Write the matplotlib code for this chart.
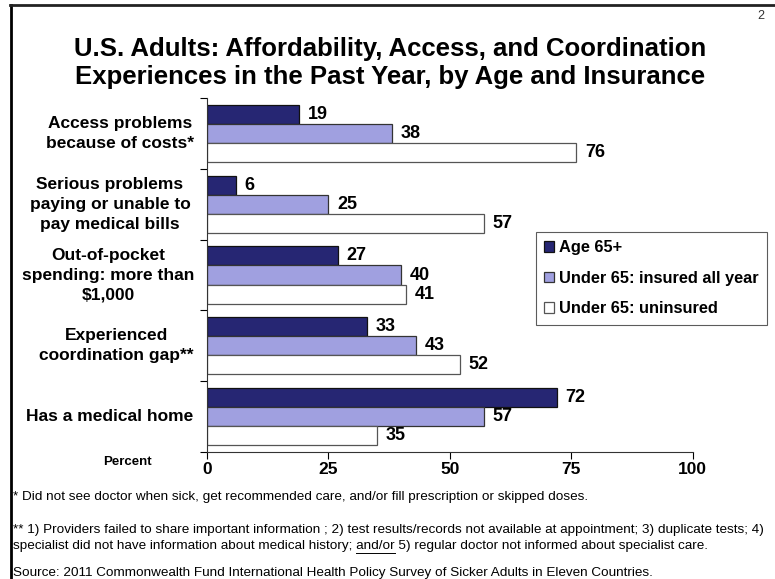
import numpy as np
import matplotlib
matplotlib.use("Agg")
from matplotlib import pyplot as plt
from matplotlib.lines import Line2D

plt.rcParams['font.family'] = ['Liberation Sans', 'DejaVu Sans']

categories = ["Access problems\nbecause of costs*",
              "Serious problems\npaying or unable to\npay medical bills",
              "Out-of-pocket\nspending: more than\n$1,000",
              "Experienced\ncoordination gap**",
              "Has a medical home"]
series_names = ["Age 65+", "Under 65: insured all year", "Under 65: uninsured"]
age65 = [19, 6, 27, 33, 72]
insured = [38, 25, 40, 43, 57]
uninsured = [76, 57, 41, 52, 35]
xticks = [0, 25, 50, 75, 100]

colors = ["#262673", "#A0A0E0", "#FFFFFF"]
edges = ["#111111", "#333333", "#555555"]
# horizontal centre of each category label, in figure pixels
label_x = [120, 110, 108, 116, 110]

W, H = 775, 579
fig = plt.figure(figsize=(7.75, 5.79), dpi=100)
ax = fig.add_axes([0.267, 0.2193, 0.627, 0.6114])

n = len(categories)
centers = np.arange(n)
h = 0.27
for i, vals in enumerate([age65, insured, uninsured]):
    y = centers + (i - 1) * h
    ax.barh(y, vals, height=h, color=colors[i], edgecolor=edges[i],
            linewidth=0.9, label=series_names[i])
    for yy, v in zip(y, vals):
        ax.text(v + 1.8, yy, str(v), va="center", ha="left",
                fontsize=13, fontweight="bold")

ax.set_xlim(0, 100)
ax.set_ylim(n - 0.5, -0.5)
ax.set_xticks(xticks)
ax.set_xticklabels([str(t) for t in xticks], fontsize=12.5, fontweight="bold")
ax.set_yticks(np.arange(n + 1) - 0.5)
ax.set_yticklabels([])
ax.tick_params(axis="y", length=5, width=0.8, direction="out")
ax.tick_params(axis="x", length=5, width=0.8, direction="out", pad=2)
for s in ["top", "right"]:
    ax.spines[s].set_visible(False)
for s in ["left", "bottom"]:
    ax.spines[s].set_color("#333333")
    ax.spines[s].set_linewidth(0.8)

# category labels
for c, lab, lx in zip(centers, categories, label_x):
    yf = ax.transData.transform((0, c))[1] / fig.bbox.height
    fig.text(lx / W, yf, lab, ha="center", va="center", fontsize=12.5,
             fontweight="bold", linespacing=1.4)

leg = fig.legend(loc="upper left", bbox_to_anchor=(0.6916, 0.5993),
                 prop={"size": 11.8, "weight": "bold"}, frameon=True,
                 fancybox=False, handlelength=0.6, handleheight=0.6,
                 handletextpad=0.3, labelspacing=0.95, borderpad=0.5,
                 borderaxespad=0)
leg.get_frame().set_edgecolor("#333333")
leg.get_frame().set_linewidth(0.8)

fig.text(0.503, 1 - 63 / H, "U.S. Adults: Affordability, Access, and Coordination\n"
         "Experiences in the Past Year, by Age and Insurance",
         ha="center", va="center", fontsize=18.5, fontweight="bold",
         linespacing=1.2)
fig.text(0.982, 0.972, "2", ha="center", va="center", fontsize=9, color="#333333")
fig.text(0.165, 1 - 462 / H, "Percent", ha="center", va="center",
         fontsize=9.5, fontweight="bold")

fs = 9.7
x0 = 0.017
fig.text(x0, 1 - 497 / H, "* Did not see doctor when sick, get recommended care, "
         "and/or fill prescription or skipped doses.", fontsize=fs, va="center")
fig.text(x0, 1 - 530 / H, "** 1) Providers failed to share important information ; "
         "2) test results/records not available at appointment; 3) duplicate tests; 4)",
         fontsize=fs, va="center")
pre = "specialist did not have information about medical history; "
fig.text(x0, 1 - 546 / H, pre + "and/or 5) regular doctor not informed "
         "about specialist care.", fontsize=fs, va="center")
fig.text(x0, 1 - 573 / H, "Source: 2011 Commonwealth Fund International Health "
         "Policy Survey of Sicker Adults in Eleven Countries.", fontsize=fs, va="center")

# underline "and/or"
r = fig.canvas.get_renderer()
m1 = fig.text(0, 0, pre, fontsize=fs, alpha=0)
m2 = fig.text(0, 0, pre + "and/or", fontsize=fs, alpha=0)
w1 = m1.get_window_extent(r).width / fig.bbox.width
w2 = m2.get_window_extent(r).width / fig.bbox.width
m1.remove()
m2.remove()
uy = 1 - 553 / H
fig.add_artist(Line2D([x0 + w1, x0 + w2], [uy, uy],
                      transform=fig.transFigure, color="black", linewidth=0.7))

# page frame
fig.add_artist(Line2D([0.014, 0.014], [0, 0.991], transform=fig.transFigure,
                      color="black", linewidth=2))
fig.add_artist(Line2D([0.013, 1.0], [0.991, 0.991], transform=fig.transFigure,
                      color="#222222", linewidth=2))

fig.savefig("out.png", dpi=100)
